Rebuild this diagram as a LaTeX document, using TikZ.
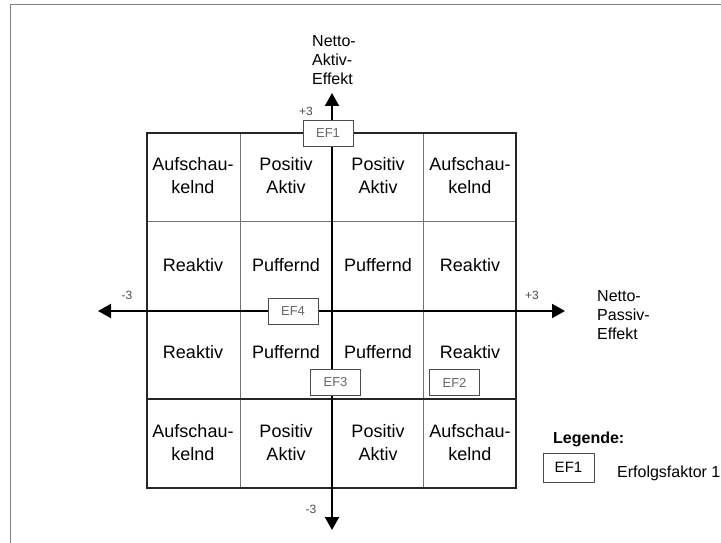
\documentclass[tikz,border=0pt]{standalone}
\usepackage{fontspec}
\setmainfont{Liberation Sans}
\usetikzlibrary{arrows.meta}
\begin{document}
\begin{tikzpicture}[x=1pt,y=-1pt,
  cell/.style={font=\fontsize{18}{23}\selectfont, align=center, inner sep=0pt},
  efbox/.style={draw=black!70, line width=0.8pt, fill=white, minimum width=50pt, minimum height=26pt, font=\fontsize{13}{15}\selectfont, text=black!60, inner sep=0pt},
  axisline/.style={line width=2pt, {Triangle[length=13pt,width=14pt]}-{Triangle[length=13pt,width=14pt]}},
  ticklbl/.style={font=\fontsize{12}{14}\selectfont, text=black!70, inner sep=0pt},
  axlbl/.style={font=\fontsize{16}{19}\selectfont, inner sep=0pt},
  outer/.style={draw=black!85, line width=1.4pt},
  thin/.style={draw=black!55, line width=1pt},
  frame/.style={draw=black!50, line width=1pt}]
\useasboundingbox (0,0) rectangle (721,543);
% frame
\draw[frame] (10,543) -- (10,5) -- (721,5);
% grid
\draw[thin] (240,133) -- (240,488);
\draw[thin] (423,133) -- (423,488);
\draw[thin] (147,221) -- (516,221);
\draw[outer] (147,399) -- (516,399);
\draw[outer] (147,133) rectangle (516,488);
% axes
\coordinate (vtop) at (332,93);
\coordinate (vbot) at (332,530);
\coordinate (hleft) at (98,311);
\coordinate (hright) at (565,311);
\draw[axisline] (vbot) -- (vtop);
\draw[axisline] (hleft) -- (hright);
% axis labels
\node[axlbl, align=left, anchor=west] (ya) at (312,60) {Netto-\\Aktiv-\\Effekt};
\node[axlbl, align=left, anchor=west] (xa) at (597,315) {Netto-\\Passiv-\\Effekt};
\node[ticklbl] (tp3) at (306,111) {+3};
\node[ticklbl] (tm3) at (311,509) {-3};
\node[ticklbl] (lm3) at (127,295) {-3};
\node[ticklbl] (rp3) at (532,295) {+3};
% cells
\node[cell] (c11) at (193,176) {Aufschau-\\kelnd};
\node[cell] (c12) at (286,176) {Positiv\\Aktiv};
\node[cell] (c13) at (378,176) {Positiv\\Aktiv};
\node[cell] (c14) at (470,176) {Aufschau-\\kelnd};
\node[cell] (c21) at (193,265) {Reaktiv};
\node[cell] (c22) at (286,265) {Puffernd};
\node[cell] (c23) at (378,265) {Puffernd};
\node[cell] (c24) at (470,265) {Reaktiv};
\node[cell] (c31) at (193,352.5) {Reaktiv};
\node[cell] (c32) at (286,352.5) {Puffernd};
\node[cell] (c33) at (378,352.5) {Puffernd};
\node[cell] (c34) at (470,352.5) {Reaktiv};
\node[cell] (c41) at (193,443) {Aufschau-\\kelnd};
\node[cell] (c42) at (286,443) {Positiv\\Aktiv};
\node[cell] (c43) at (378,443) {Positiv\\Aktiv};
\node[cell] (c44) at (470,443) {Aufschau-\\kelnd};
% EF boxes
\node[efbox] (ef1) at (328,133) {EF1};
\node[efbox] (ef4) at (293,311) {EF4};
\node[efbox] (ef3) at (335.5,382.5) {EF3};
\node[efbox] (ef2) at (454.5,382.5) {EF2};
% legend
\node[font=\bfseries\fontsize{16}{18}\selectfont, anchor=base west, inner sep=0pt] (leg) at (553,443) {Legende:};
\node[efbox, text=black, minimum height=29pt, minimum width=51pt, font=\fontsize{15}{17}\selectfont] (legbox) at (568.5,467.5) {EF1};
\node[font=\fontsize{16}{18}\selectfont, anchor=base west, inner sep=0pt] (legtxt) at (617,477) {Erfolgsfaktor 1};
\end{tikzpicture}
\end{document}
